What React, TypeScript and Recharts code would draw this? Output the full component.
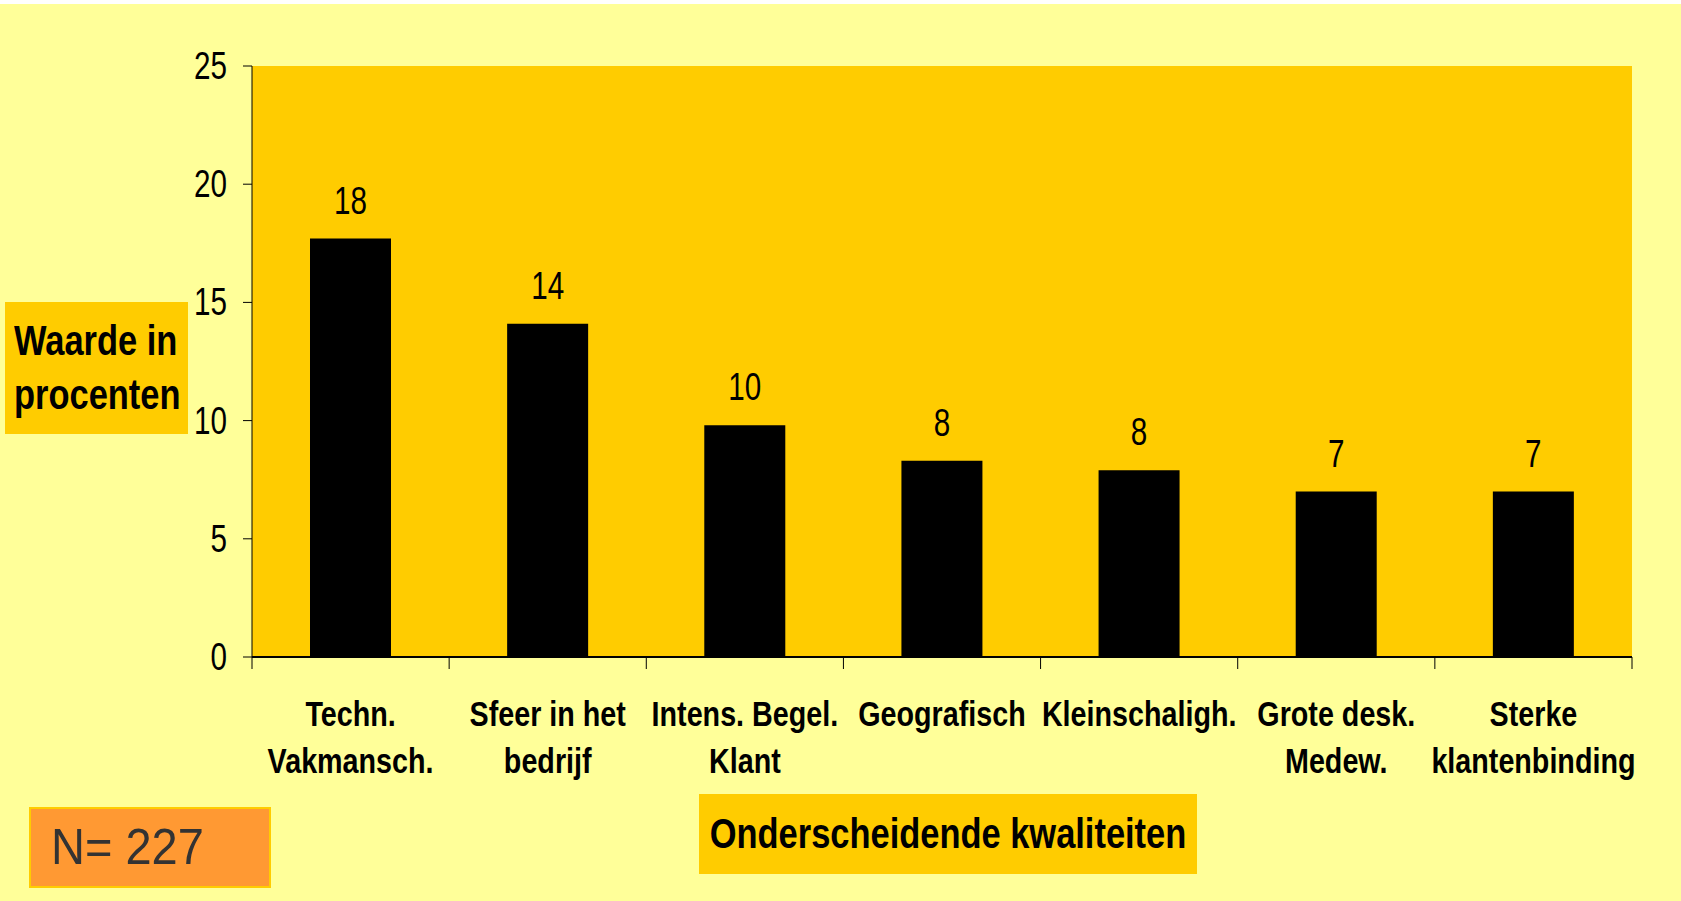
import React from 'react';
import { BarChart, Bar, XAxis, YAxis, CartesianGrid, LabelList } from 'recharts';

const categories = [
  ['Techn.', 'Vakmansch.'],
  ['Sfeer in het', 'bedrijf'],
  ['Intens. Begel.', 'Klant'],
  ['Geografisch'],
  ['Kleinschaligh.'],
  ['Grote desk.', 'Medew.'],
  ['Sterke', 'klantenbinding'],
];
const values = [17.7, 14.1, 9.8, 8.3, 7.9, 7.0, 7.0];
const yTicks = [0, 5, 10, 15, 20, 25];

const data = categories.map((lines, i) => ({ name: lines.join(' '), lines, value: values[i] }));

// no Arial Narrow installed: squeeze Liberation Sans horizontally instead
const FONT = '"Liberation Sans", Arial, sans-serif';
const SQUEEZE = 0.82;
const PLOT_W = 1380;
const HALF_BAND = PLOT_W / categories.length / 2;

function NarrowText({ x, y, anchor = 'middle', size, bold, squeeze = SQUEEZE, children }: any) {
  return (
    <text
      transform={`translate(${x},${y}) scale(${squeeze},1)`}
      x={0}
      y={0}
      textAnchor={anchor}
      fontFamily={FONT}
      fontWeight={bold ? 'bold' : 'normal'}
      fontSize={size}
      fill="#000"
    >
      {children}
    </text>
  );
}

function CategoryTick(props: any) {
  const { x, y, payload, index } = props;
  const lines: string[] = data[index]?.lines ?? [payload.value];
  return (
    <g>
      {index === 0 && <line x1={x - HALF_BAND} x2={x - HALF_BAND} y1={y} y2={y + 12} stroke="#000" strokeWidth={1} />}
      <line x1={x + HALF_BAND} x2={x + HALF_BAND} y1={y} y2={y + 12} stroke="#000" strokeWidth={1} />
      {lines.map((l, i) => (
        <NarrowText key={i} x={x} y={y + 69 + i * 47} size={35} bold>
          {l}
        </NarrowText>
      ))}
    </g>
  );
}

function ValueTick(props: any) {
  const { x, y, payload } = props;
  return (
    <NarrowText x={x} y={y + 13} anchor="end" size={38} squeeze={0.78}>
      {payload.value}
    </NarrowText>
  );
}

function BarValue(props: any) {
  const { x, y, width, value } = props;
  return (
    <NarrowText x={Number(x) + Number(width) / 2} y={Number(y) - 25} size={38} squeeze={0.78}>
      {Math.round(Number(value))}
    </NarrowText>
  );
}

export default function App() {
  return (
    <div style={{ position: 'absolute', left: 0, top: 0, width: 1681, height: 901, background: '#FFFF99', overflow: 'hidden' }}>
      <div style={{ position: 'absolute', left: 0, top: 0, width: 1681, height: 4, background: '#fff' }} />
      <BarChart
        width={1681}
        height={901}
        data={data}
        margin={{ top: 66, right: 49, left: 172, bottom: 114 }}
        barSize={81}
        style={{ position: 'absolute', left: 0, top: 0 }}
      >
        <CartesianGrid fill="#FFCC00" stroke="none" horizontal={false} vertical={false} />
        <XAxis
          dataKey="name"
          height={130}
          interval={0}
          tickLine={false}
          tickSize={0}
          tickMargin={0}
          axisLine={{ stroke: '#000', strokeWidth: 2 }}
          tick={<CategoryTick />}
        />
        <YAxis
          width={80}
          domain={[0, 25]}
          ticks={yTicks}
          interval={0}
          tickSize={9}
          tickMargin={16}
          axisLine={{ stroke: '#000', strokeWidth: 1 }}
          tickLine={{ stroke: '#000', strokeWidth: 1 }}
          tick={<ValueTick />}
        />
        <Bar dataKey="value" fill="#000" isAnimationActive={false}>
          <LabelList dataKey="value" content={<BarValue />} />
        </Bar>
      </BarChart>

      <div
        style={{
          position: 'absolute', left: 5, top: 302, width: 183, height: 132, background: '#FFCC00',
        }}
      >
        <div
          style={{
            position: 'absolute', left: 9, top: 12, fontFamily: FONT, fontWeight: 'bold', fontSize: 42,
            lineHeight: '54px', color: '#000', whiteSpace: 'nowrap',
            transform: `scaleX(${SQUEEZE})`, transformOrigin: 'left top',
          }}
        >
          Waarde in
          <br />
          procenten
        </div>
      </div>

      <div
        style={{
          position: 'absolute', left: 699, top: 794, width: 498, height: 80, background: '#FFCC00',
        }}
      >
        <div
          style={{
            position: 'absolute', left: -151, top: 0, width: 800,
            fontFamily: FONT, fontWeight: 'bold', fontSize: 42, lineHeight: '80px', color: '#000',
            textAlign: 'center', whiteSpace: 'nowrap', transform: `scaleX(${SQUEEZE})`, transformOrigin: 'center',
          }}
        >
          Onderscheidende kwaliteiten
        </div>
      </div>

      <div
        style={{
          position: 'absolute', left: 29, top: 807, width: 242, height: 81, background: '#FF9933',
          border: '2px solid #FFCC00', boxSizing: 'border-box',
        }}
      >
        <div
          style={{
            position: 'absolute', left: 20, top: 0, fontFamily: FONT, fontSize: 50, lineHeight: '77px',
            color: '#333', whiteSpace: 'nowrap', transform: 'scaleX(0.94)', transformOrigin: 'left top',
          }}
        >
          N= 227
        </div>
      </div>
    </div>
  );
}
